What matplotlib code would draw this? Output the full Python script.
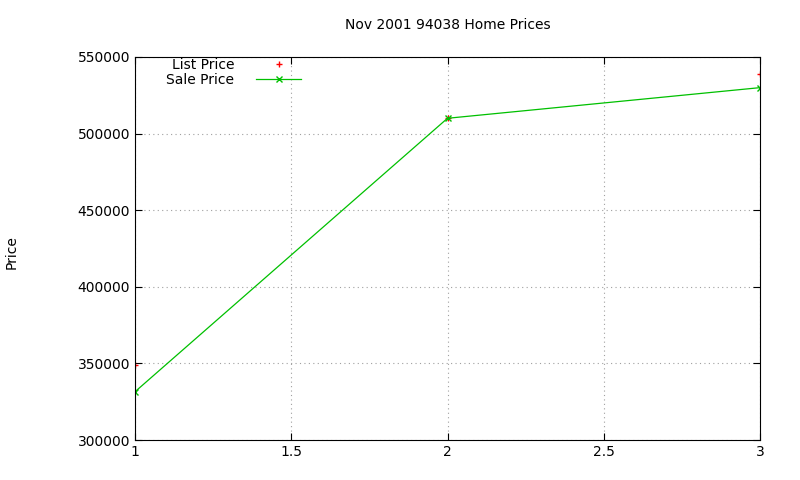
import matplotlib.pyplot as plt
from matplotlib.ticker import MultipleLocator

x = [1, 2, 3]
list_price = [349000, 510000, 539000]
sale_price = [331500, 510000, 530000]

fig = plt.figure(figsize=(8, 4.8), dpi=100)
ax = fig.add_axes([135 / 800, 40 / 480, 625 / 800, 383 / 480])

ax.plot(x, list_price, ls='none', marker='+', color='#ff0000', ms=5, mew=1,
        label='List Price')
ax.plot(x, sale_price, color='#00c000', lw=0.9, marker='x', ms=5, mew=1,
        label='Sale Price')

ax.set_xlim(1, 3)
ax.set_ylim(300000, 550000)
ax.xaxis.set_major_locator(MultipleLocator(0.5))
ax.yaxis.set_major_locator(MultipleLocator(50000))
ax.xaxis.set_major_formatter(plt.FuncFormatter(lambda v, p: f'{v:g}'))
ax.grid(True, color='#a0a0a0', ls=(0, (1, 3)), lw=0.8)
ax.tick_params(direction='in', labelsize=10, top=True, right=True, length=5)
for s in ax.spines.values():
    s.set_linewidth(0.8)

ax.set_title('Nov 2001 94038 Home Prices', fontsize=10, pad=20)
fig.text(12 / 800, 1 - 252 / 480, 'Price', rotation=90, va='center', ha='center', fontsize=10)

leg = ax.legend(loc='upper left', bbox_to_anchor=(0.03, 1.03), frameon=False,
                markerfirst=False, fontsize=10, handlelength=3.2, handletextpad=1.6,
                labelspacing=0.05)

fig.savefig('out.png', dpi=100)
